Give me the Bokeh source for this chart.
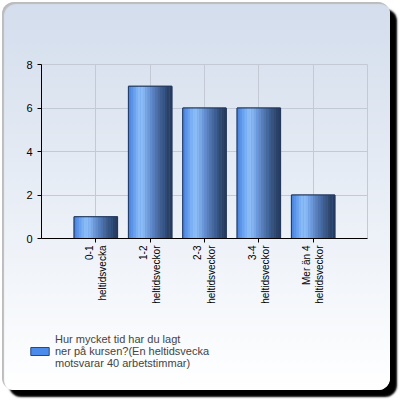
import math
from bokeh.plotting import figure
from bokeh.layouts import column
from bokeh.models import FactorRange, Range1d, FixedTicker, Legend, LegendItem, ColumnDataSource
from bokeh.transform import dodge
from bokeh.embed import file_html
from bokeh.resources import INLINE

categories = ["0-1\nheltidsvecka", "1-2\nheltidsveckor", "2-3\nheltidsveckor",
              "3-4\nheltidsveckor", "Mer än 4\nheltidsveckor"]
values = [1, 7, 6, 6, 2]
y_ticks = [0, 2, 4, 6, 8]
series_name = "Hur mycket tid har du lagt\nner på kursen?(En heltidsvecka\nmotsvarar 40 arbetstimmar)"

src = ColumnDataSource(data=dict(cat=categories, val=values))

p = figure(x_range=FactorRange(factors=categories, range_padding=0.2),
           y_range=Range1d(0, 8),
           width=388, height=320,
           min_border_left=39, min_border_right=23, min_border_top=62, min_border_bottom=84,
           output_backend="svg", toolbar_location=None)
p.border_fill_color = None
p.background_fill_color = None
p.outline_line_color = "#c3cad6"

p.xgrid.grid_line_color = "#c3cad6"
p.ygrid.grid_line_color = "#c3cad6"
p.yaxis.ticker = FixedTicker(ticks=y_ticks)

for ax in (p.xaxis, p.yaxis):
    ax.axis_line_color = "black"
    ax.major_tick_line_color = "black"
    ax.major_tick_in = 0
    ax.major_tick_out = 4
    ax.minor_tick_line_color = None
    ax.major_label_text_color = "black"
    ax.major_label_text_font = "Liberation Sans"
p.yaxis.major_label_text_font_size = "11px"
p.yaxis.major_label_standoff = 5
p.xaxis.major_label_text_font_size = "10px"
p.xaxis.major_label_orientation = math.pi / 2
p.xaxis.major_label_standoff = 3

bar_w = 0.8
p.vbar(x="cat", top="val", width=bar_w, source=src,
       fill_color="#4a8bec", line_color="#2a4777")

shades = ["#4f86dd", "#5a93e8", "#6aa2ef", "#7bb0f4", "#88baf6", "#8cbcf6", "#84b3ef",
          "#79a6e4", "#6d98d7", "#628bc9", "#587fbb", "#4f73ac", "#46689d", "#3e5d8e",
          "#375380", "#304a73", "#2b4268", "#273c5f"]
n = len(shades)
sw = bar_w / n
for i, c in enumerate(shades):
    off = -bar_w / 2 + sw * (i + 0.5)
    p.vbar(x=dodge("cat", off, range=p.x_range), top="val", width=sw * 1.08, source=src,
           fill_color=c, line_color=None)

p.vbar(x="cat", top="val", width=bar_w, source=src,
       fill_color=None, line_color="#243a5e", line_width=1)

# legend panel
lg = figure(width=388, height=68, x_range=Range1d(0, 1), y_range=Range1d(0, 1),
            x_axis_location=None, y_axis_location=None,
            min_border=0, min_border_left=0, min_border_right=0,
            min_border_top=0, min_border_bottom=0,
            output_backend="svg", toolbar_location=None)
lg.grid.visible = False
lg.outline_line_color = None
lg.border_fill_color = None
lg.background_fill_color = None
swatch = lg.vbar(x=[0.5], top=[1], width=0.1, fill_color="#4a8bec", line_color="#2a4777")
swatch.visible = False

leg_x = 26
if "frame_align" in lg.properties():
    lg.frame_align = False
    p.frame_align = False
else:
    leg_x = 26 - 39

legend = Legend(items=[LegendItem(label=series_name, renderers=[swatch])],
                location=(leg_x, 21), orientation="vertical",
                background_fill_alpha=0, border_line_color=None,
                padding=0, margin=0, glyph_width=23, glyph_height=10,
                label_text_font="Liberation Sans", label_text_font_size="11px",
                label_standoff=4, label_text_line_height=1.1)
lg.add_layout(legend, "center")

layout = column(p, lg, spacing=0)
layout.styles = {"background": "linear-gradient(#d3ddec 0%, #e6ecf5 45%, #ffffff 100%)",
                 "border-radius": "12px",
                 "box-shadow": "7px 7px 2px #000000, inset 2px 2px 1px #bcbcbc",
                 "position": "relative", "left": "2px", "top": "2px"}

open("out.html", "w").write(file_html(layout, INLINE))
